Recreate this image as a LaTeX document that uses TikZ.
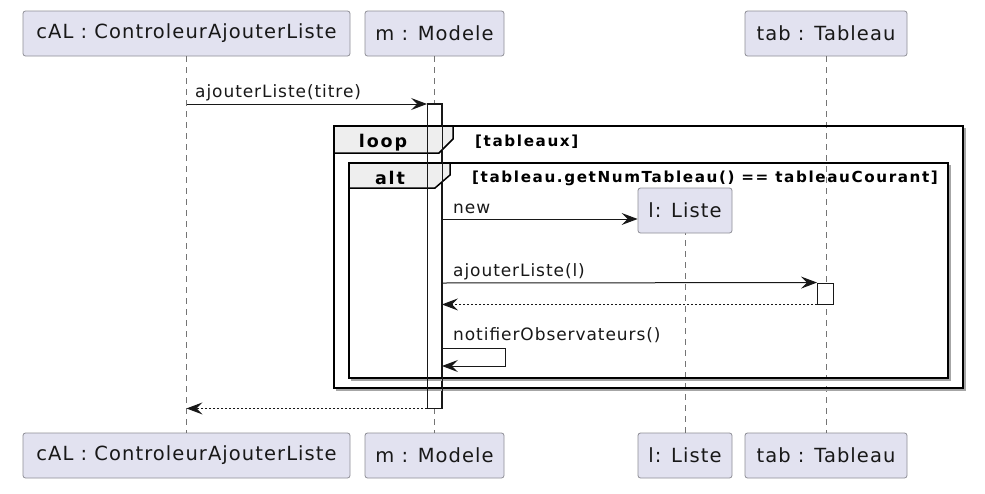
\documentclass[tikz,border=0pt]{standalone}
\usepackage{fontspec}
\setmainfont{DejaVu Sans}
\newfontfamily\partfont[LetterSpace=5.5]{DejaVu Sans}
\newfontfamily\msgfont[LetterSpace=5.5]{DejaVu Sans}
\newfontfamily\guardfont[LetterSpace=10.5]{DejaVu Sans}
\usetikzlibrary{arrows.meta}
\definecolor{partfill}{HTML}{E2E2F0}
\definecolor{partline}{HTML}{8E8E96}
\definecolor{headfill}{HTML}{EEEEEE}
\definecolor{ink}{HTML}{181818}
\begin{document}
\begin{tikzpicture}[x=1pt,y=-1pt,
  part/.style={draw=partline, fill=partfill, rounded corners=2.5pt, line width=0.8pt,
    minimum height=45pt, inner sep=0pt, text=ink, font=\partfont\fontsize{19.5}{22}\selectfont},
  lifeline/.style={draw=ink!60, line width=0.8pt, dash pattern=on 6pt off 5pt},
  actbar/.style={draw=ink, line width=0.9pt, fill=white},
  msg/.style={draw=ink, line width=1pt, -{Stealth[length=16pt, width=12pt, inset=6pt]}},
  ret/.style={msg, dash pattern=on 2pt off 2pt},
  lbl/.style={inner sep=0pt, anchor=base west, text=ink, font=\msgfont\fontsize{17}{20}\selectfont},
  frame/.style={draw=black, line width=1.5pt},
  shadow/.style={draw=black!35, line width=1.5pt},
  head/.style={fill=headfill, draw=black, line width=1.5pt},
  kw/.style={inner sep=0pt, anchor=base, font=\guardfont\bfseries\fontsize{17.5}{20}\selectfont},
  guard/.style={inner sep=0pt, anchor=base west, font=\guardfont\bfseries\fontsize{15.2}{18}\selectfont}]
\fill[white] (0,0) rectangle (985,493);
% participants
\node[part, minimum width=327pt] (cal) at (186.5,33.5) {cAL : ControleurAjouterListe};
\node[part, minimum width=139pt] (m) at (434.5,33.5) {m : Modele};
\node[part, minimum width=162pt] (tab) at (826,33.5) {tab : Tableau};
\node[part, minimum width=327pt] (calB) at (186.5,455.5) {cAL : ControleurAjouterListe};
\node[part, minimum width=139pt] (mB) at (434.5,455.5) {m : Modele};
\node[part, minimum width=94pt] (lB) at (685,455.5) {l: Liste};
\node[part, minimum width=162pt] (tabB) at (826,455.5) {tab : Tableau};
% message rows
\coordinate (r1) at (0,104);
\coordinate (r2) at (0,219);
\coordinate (r3) at (0,283);
\coordinate (r5) at (0,348);
\coordinate (r6) at (0,366);
\coordinate (selfx) at (505,0);
% lifelines
\draw[lifeline] (cal.south) -- (calB.north);
\draw[lifeline] (m.south) -- (mB.north);
\draw[lifeline] (tab.south) -- (tabB.north);
\draw[lifeline] (lB.north) -- (685,233);
% activations
\node[actbar, minimum width=14pt, minimum height=304pt, inner sep=0pt] (actM) at (434.5,256) {};
\node[actbar, minimum width=16pt, minimum height=21pt, inner sep=0pt] (actT) at (825.5,293.5) {};
% loop frame
\draw[shadow] (336,390) -- (965,390) -- (965,128);
\draw[frame] (334,126) rectangle (963,388);
\draw[head] (334,126) -- (453,126) -- (453,139) -- (439,153) -- (334,153) -- cycle;
\node[kw] (loopkw) at (383,147) {loop};
\node[guard] (loopg) at (475,146) {[tableaux]};
% alt frame
\draw[shadow] (351,380) -- (950,380) -- (950,165);
\draw[frame] (349,163) rectangle (948,378);
\draw[head] (349,163) -- (450,163) -- (450,175) -- (435,188) -- (349,188) -- cycle;
\node[kw] (altkw) at (390,184) {alt};
\node[guard] (altg) at (472,182) {[tableau.getNumTableau() == tableauCourant]};
% activation outlines over the frames
\draw[draw=ink, line width=0.9pt] (actM.north west) rectangle (actM.south east);
% created participant
\node[part, minimum width=94pt] (l) at (685,210.5) {l: Liste};
% messages
\draw[msg] (cal |- r1) -- (actM.west |- r1);
\node[lbl] (m1) at (195,97) {ajouterListe(titre)};
\draw[msg] (actM.east |- r2) -- (l.west |- r2);
\node[lbl] (m2) at (453,213) {new};
\draw[msg] (actM.east |- r3) -- (actT.north west);
\node[lbl] (m3) at (453,276) {ajouterListe(l)};
\draw[ret] (actT.south west) -- (actM.east |- actT.south);
\draw[msg] (actM.east |- r5) -- (selfx |- r5) -- (selfx |- r6) -- (actM.east |- r6);
\node[lbl] (m5) at (453,340) {notifierObservateurs()};
\draw[ret] (actM.south west) -- (cal |- actM.south);
\end{tikzpicture}
\end{document}
